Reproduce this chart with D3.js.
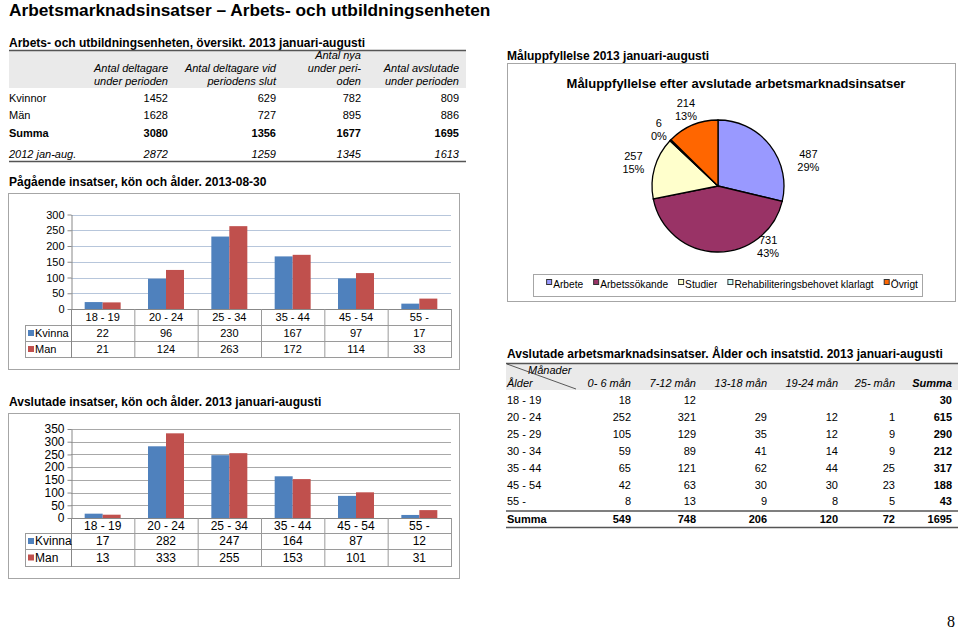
<!DOCTYPE html>
<html><head><meta charset="utf-8">
<script src="https://cdn.jsdelivr.net/npm/d3@7"></script>
<style>
body{margin:0;background:#fff}
text{font-family:"Liberation Sans",Arial,sans-serif;fill:#000}
</style>
</head><body>
<svg id="c" width="960" height="629"></svg>
<script>
// ---------------- DATA ----------------
const mainTitle = "Arbetsmarknadsinsatser \u2013 Arbets- och utbildningsenheten";

const overviewTitle = "Arbets- och utbildningsenheten, översikt. 2013 januari-augusti";
const overviewHeaders = [["Antal deltagare","under perioden"],["Antal deltagare vid","periodens slut"],["Antal nya","under peri-","oden"],["Antal avslutade","under perioden"]];
const overviewRowLabels = ["Kvinnor","Män","Summa","2012 jan-aug."];
const overviewKvinnor = [1452,629,782,809];
const overviewMan = [1628,727,895,886];
const overviewSumma = [3080,1356,1677,1695];
const overview2012 = [2872,1259,1345,1613];

const ageGroups = ["18 - 19","20 - 24","25 - 34","35 - 44","45 - 54","55 -"];
const seriesNames = ["Kvinna","Man"];

const pagTitle = "Pågående insatser, kön och ålder. 2013-08-30";
const pagKvinna = [22,96,230,167,97,17];
const pagMan = [21,124,263,172,114,33];
const pagTicks = [0,50,100,150,200,250,300];

const avsTitle = "Avslutade insatser, kön och ålder.  2013 januari-augusti";
const avsKvinna = [17,282,247,164,87,12];
const avsMan = [13,333,255,153,101,31];
const avsTicks = [0,50,100,150,200,250,300,350];

const pieSection = "Måluppfyllelse 2013 januari-augusti";
const pieTitle = "Måluppfyllelse efter avslutade arbetsmarknadsinsatser";
const pieLabels = ["Arbete","Arbetssökande","Studier","Rehabiliteringsbehovet klarlagt","Övrigt"];
const pieValues = [487,731,257,6,214];

const durTitle = "Avslutade arbetsmarknadsinsatser. Ålder och insatstid. 2013 januari-augusti";
const durCols = ["0- 6 mån","7-12 mån","13-18 mån","19-24 mån","25- mån","Summa"];
const durAges = ["18 - 19","20 - 24","25 - 29","30 - 34","35 - 44","45 - 54","55 -"];
const dur0_6  = [18,252,105,59,65,42,8];
const dur7_12 = [12,321,129,89,121,63,13];
const dur13_18 = [null,29,35,41,62,30,9];
const dur19_24 = [null,12,12,14,44,30,8];
const dur25   = [null,1,9,9,25,23,5];
const durSumma = [30,615,290,212,317,188,43];
const durTotals = [549,748,206,120,72,1695];

const pageNumber = "8";

// ---------------- STYLE ----------------
const seriesColors = ["#4F81BD","#C0504D"];
const pieColors = ["#9999FF","#993366","#FFFFCC","#CCFFFF","#FF6600"];
const headerBg = "#EAEAEA";

const svg = d3.select("#c");
const font = '"Liberation Sans",Arial,sans-serif';

function txt(x,y,s,o={}){
  const t = svg.append("text").attr("x",x).attr("y",y).text(s)
    .style("font-size",(o.size||11)+"px")
    .style("font-weight",o.bold?"bold":"normal")
    .style("font-style",o.italic?"italic":"normal")
    .attr("text-anchor",o.anchor||"start");
  if(o.fill) t.style("fill",o.fill);
  return t;
}
function line(x1,y1,x2,y2,c,w){
  return svg.append("line").attr("x1",x1).attr("y1",y1).attr("x2",x2).attr("y2",y2)
    .attr("stroke",c||"#999").attr("stroke-width",w||1);
}

// ---------- Main title ----------
txt(9,16,mainTitle,{size:17.3,bold:true});

// ---------- Overview table ----------
txt(9,47,overviewTitle,{size:12,bold:true});
svg.append("rect").attr("x",9).attr("y",51).attr("width",457).attr("height",37).attr("fill",headerBg);
line(9,50.5,466,50.5,"#555",1.5);
const ovColX = d3.scaleOrdinal().domain(d3.range(4)).range([168,276,361,459]);
overviewHeaders.forEach((h,i)=>{
  const n=h.length;
  h.forEach((s,j)=>txt(ovColX(i),85-(n-1-j)*13,s,{italic:true,anchor:"end"}));
});
const ovRows = [overviewKvinnor,overviewMan,overviewSumma,overview2012];
const ovRowY = [102,119,137,158];
ovRows.forEach((r,ri)=>{
  const o = {bold:ri===2, italic:ri===3};
  txt(9,ovRowY[ri],overviewRowLabels[ri],o);
  r.forEach((v,ci)=>txt(ovColX(ci),ovRowY[ri],v,Object.assign({anchor:"end"},o)));
});
line(9,161.5,466,161.5,"#555",1.5);

// ---------- Bar charts ----------
function barChart(cfg){
  svg.append("rect").attr("x",8.5).attr("y",cfg.boxTop+0.5).attr("width",451).attr("height",cfg.boxBottom-cfg.boxTop)
    .attr("fill","none").attr("stroke","#A6A6A6");
  txt(9,cfg.boxTop-7,cfg.title,{size:12,bold:true});
  const x = d3.scaleBand().domain(ageGroups).range([cfg.left,cfg.right]);
  const y = d3.scaleLinear().domain([0,d3.max(cfg.ticks)]).range([cfg.y0,cfg.yTop]);
  const xs = d3.scaleBand().domain(seriesNames).range([0,x.bandwidth()]).paddingOuter(0.76);
  const g = svg.append("g");
  g.selectAll(".grid").data(cfg.ticks.slice(1)).join("line")
    .attr("x1",cfg.left).attr("x2",cfg.right)
    .attr("y1",d=>Math.round(y(d))+0.5).attr("y2",d=>Math.round(y(d))+0.5)
    .attr("stroke",cfg.grid);
  const ax = g.append("g").attr("transform",`translate(${cfg.left+0.5},0)`)
    .call(d3.axisLeft(y).tickValues(cfg.ticks).tickSize(4).tickPadding(3).tickSizeOuter(0));
  ax.select(".domain").attr("stroke","#888");
  ax.selectAll(".tick line").attr("stroke","#888");
  ax.selectAll(".tick text").style("font-size",cfg.fs+"px").style("font-family",font).attr("fill","#000");
  const series = [cfg.k,cfg.m];
  series.forEach((vals,si)=>{
    g.selectAll(".b"+si).data(vals).join("rect")
      .attr("x",(d,i)=>x(ageGroups[i])+xs(seriesNames[si]))
      .attr("width",xs.bandwidth())
      .attr("y",d=>y(d)).attr("height",d=>y(0)-y(d))
      .attr("fill",seriesColors[si]);
  });
  // data table
  const rows = cfg.rows;
  const tc = "#9A9A9A";
  line(cfg.left,cfg.y0+0.5,cfg.right,cfg.y0+0.5,"#888");
  rows.forEach(ry=>line(cfg.tabLeft,ry+0.5,cfg.right,ry+0.5,tc));
  line(cfg.tabLeft+0.5,rows[0],cfg.tabLeft+0.5,rows[2]+1,tc);
  ageGroups.forEach((a,i)=>{
    line(x(a)+0.5,cfg.y0,x(a)+0.5,rows[2]+1,i===0?"#888":tc);
    txt(x(a)+x.bandwidth()/2,(cfg.y0+rows[0])/2+cfg.fs*0.36,a,{size:cfg.fs,anchor:"middle"});
    series.forEach((vals,si)=>{
      const top = rows[si], bot = rows[si+1];
      txt(x(a)+x.bandwidth()/2,(top+bot)/2+cfg.fs*0.36,vals[i],{size:cfg.fs,anchor:"middle"});
    });
  });
  line(cfg.right+0.5,cfg.y0,cfg.right+0.5,rows[2]+1,tc);
  seriesNames.forEach((s,si)=>{
    const mid=(rows[si]+rows[si+1])/2;
    svg.append("rect").attr("x",cfg.tabLeft+3).attr("y",mid-3).attr("width",6).attr("height",6).attr("fill",seriesColors[si]);
    txt(cfg.tabLeft+10,mid+cfg.fs*0.36,s,{size:cfg.fs});
  });
}
barChart({title:pagTitle,boxTop:193,boxBottom:369,left:71,right:451,y0:309,yTop:214.5,
  ticks:pagTicks,k:pagKvinna,m:pagMan,rows:[325,341,357],tabLeft:25,fs:11,grid:"#B7C6DB"});
barChart({title:avsTitle,boxTop:413,boxBottom:578,left:71,right:451,y0:518,yTop:429,
  ticks:avsTicks,k:avsKvinna,m:avsMan,rows:[533,549,566],tabLeft:25,fs:12,grid:"#A8A8A8"});

// ---------- Pie ----------
txt(507,60,pieSection,{size:12,bold:true});
svg.append("rect").attr("x",507.5).attr("y",63.5).attr("width",448).attr("height",238)
  .attr("fill","none").attr("stroke","#A6A6A6");
txt(736,88,pieTitle,{size:13,bold:true,anchor:"middle"});
const pcx=718, pcy=186, pr=66;
const pieGen = d3.pie().sort(null).value(d=>d);
const arcs = pieGen(pieValues);
const arcGen = d3.arc().innerRadius(0).outerRadius(pr);
const pg = svg.append("g").attr("transform",`translate(${pcx},${pcy})`);
pg.selectAll("path").data(arcs).join("path").attr("d",arcGen)
  .attr("fill",(d,i)=>pieColors[i]).attr("stroke","#000").attr("stroke-width",1.3);
const total = d3.sum(pieValues);
const pct = d3.format(".0%");
// label placement: angle override (deg) and distance, default at mid angle
const labelPlace = [{a:74,r:94},{a:140,r:78},{r:88},{r:82},{r:83}];
arcs.forEach((d,i)=>{
  const p = labelPlace[i];
  const ang = p.a!==undefined ? p.a*Math.PI/180 : (d.startAngle+d.endAngle)/2;
  const lx = pcx + p.r*Math.sin(ang), ly = pcy - p.r*Math.cos(ang);
  txt(lx,ly-2,pieValues[i],{anchor:"middle"});
  txt(lx,ly+11,pct(pieValues[i]/total),{anchor:"middle"});
});
// legend
svg.append("rect").attr("x",533.5).attr("y",274.5).attr("width",389).attr("height",22)
  .attr("fill","none").attr("stroke","#A6A6A6");
const lg = svg.append("g");
const items = [];
pieLabels.forEach((l,i)=>{
  const it = lg.append("g");
  it.append("rect").attr("x",0.5).attr("y",-5.5).attr("width",5).attr("height",5)
    .attr("fill",pieColors[i]).attr("stroke","#333");
  const t = it.append("text").attr("x",7).attr("y",2.5).text(l).style("font-size","10.2px");
  items.push({g:it,w:7+t.node().getComputedTextLength()});
});
const gap = 10;
const totalW = d3.sum(items,d=>d.w)+gap*(items.length-1);
let cur = 732 - totalW/2;
items.forEach(it=>{ it.g.attr("transform",`translate(${cur},285)`); cur += it.w+gap; });

// ---------- Duration table ----------
txt(507,358,durTitle,{size:12,bold:true});
svg.append("rect").attr("x",506).attr("y",364).attr("width",452).attr("height",26).attr("fill",headerBg);
line(506,363.5,958,363.5,"#555",1.5);
line(507,364,576,389,"#333",0.8);
txt(528,374,"Månader",{italic:true});
txt(507,387,"Ålder",{italic:true});
const durX = [631,696,767,838,895,952];
durCols.forEach((c,i)=>txt(durX[i],387,c,{italic:true,bold:i===5,anchor:"end"}));
const durRows = [dur0_6,dur7_12,dur13_18,dur19_24,dur25,durSumma];
const rowY = d3.scaleLinear().domain([0,6]).range([404,505.4]);
durAges.forEach((a,ri)=>{
  const yy=rowY(ri);
  txt(507,yy,a);
  durRows.forEach((col,ci)=>{
    if(col[ri]!==null) txt(durX[ci],yy,col[ri],{anchor:"end",bold:ci===5});
  });
});
line(506,511,958,511,"#555",1.5);
txt(507,523,"Summa",{bold:true});
durTotals.forEach((v,ci)=>txt(durX[ci],523,v,{anchor:"end",bold:true}));
line(506,527.5,958,527.5,"#555",1.5);

// ---------- Page number ----------
svg.append("text").attr("x",951).attr("y",627).text(pageNumber)
  .style("font-family",'"Liberation Serif","Times New Roman",serif').style("font-size","16px").attr("text-anchor","middle");
</script>
</body></html>
